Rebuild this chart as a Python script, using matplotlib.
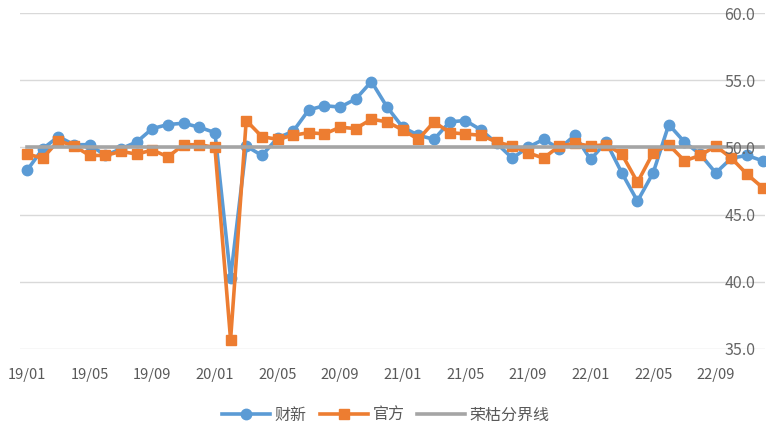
import matplotlib.pyplot as plt

plt.rcParams['font.family'] = ['Noto Sans CJK SC', 'DejaVu Sans']

# monthly PMI, 2019/01 - 2022/12
caixin = [48.3, 49.9, 50.8, 50.2, 50.2, 49.4, 49.9, 50.4, 51.4, 51.7, 51.8, 51.5,
          51.1, 40.3, 50.1, 49.4, 50.7, 51.2, 52.8, 53.1, 53.0, 53.6, 54.9, 53.0,
          51.5, 50.9, 50.6, 51.9, 52.0, 51.3, 50.3, 49.2, 50.0, 50.6, 49.9, 50.9,
          49.1, 50.4, 48.1, 46.0, 48.1, 51.7, 50.4, 49.5, 48.1, 49.2, 49.4, 49.0]
official = [49.5, 49.2, 50.5, 50.1, 49.4, 49.4, 49.7, 49.5, 49.8, 49.3, 50.2, 50.2,
            50.0, 35.7, 52.0, 50.8, 50.6, 50.9, 51.1, 51.0, 51.5, 51.4, 52.1, 51.9,
            51.3, 50.6, 51.9, 51.1, 51.0, 50.9, 50.4, 50.1, 49.6, 49.2, 50.1, 50.3,
            50.1, 50.2, 49.5, 47.4, 49.6, 50.2, 49.0, 49.4, 50.1, 49.2, 48.0, 47.0]
threshold = 50.0
months = [f"{y:02d}/{m:02d}" for y in range(19, 23) for m in range(1, 13)]
tick_labels = months[::4]
y_ticks = [35.0, 40.0, 45.0, 50.0, 55.0, 60.0]

x = list(range(len(months)))

fig = plt.figure(figsize=(7.72, 4.34), dpi=100)
ax = fig.add_axes([0.026, 0.196, 0.965, 0.774])

for v in y_ticks:
    ax.axhline(v, color='#D9D9D9', lw=1, zorder=1)

ax.plot(x, caixin, color='#5B9BD5', lw=2.6, marker='o', ms=7.5, label='财新', zorder=3)
ax.plot(x, official, color='#ED7D31', lw=2.6, marker='s', ms=7, label='官方', zorder=4)
ax.plot(x, [threshold] * len(x), color='#A5A5A5', lw=2.6, label='荣枯分界线', zorder=5)

ax.set_xlim(-0.45, 47.15)
ax.set_ylim(35, 60)
ax.set_yticks(y_ticks)
ax.set_yticklabels([f"{v:.1f}" for v in y_ticks])
ax.yaxis.tick_right()
ax.yaxis.set_zorder(6)
ax.tick_params(axis='y', length=0, pad=-7, labelsize=11.5, labelcolor='#666666')
for lab in ax.get_yticklabels():
    lab.set_horizontalalignment('right')
ax.set_xticks(x[::4])
ax.set_xticklabels(tick_labels)
ax.tick_params(axis='x', length=0, pad=14, labelsize=10.5, labelcolor='#595959')
for s in ax.spines.values():
    s.set_visible(False)

fig.legend(loc='lower center', bbox_to_anchor=(0.5, -0.01), ncol=3, frameon=False,
           fontsize=11.5, handlelength=3, handletextpad=0.3, columnspacing=0.8,
           labelcolor='#595959')

fig.savefig('out.png', dpi=100)
